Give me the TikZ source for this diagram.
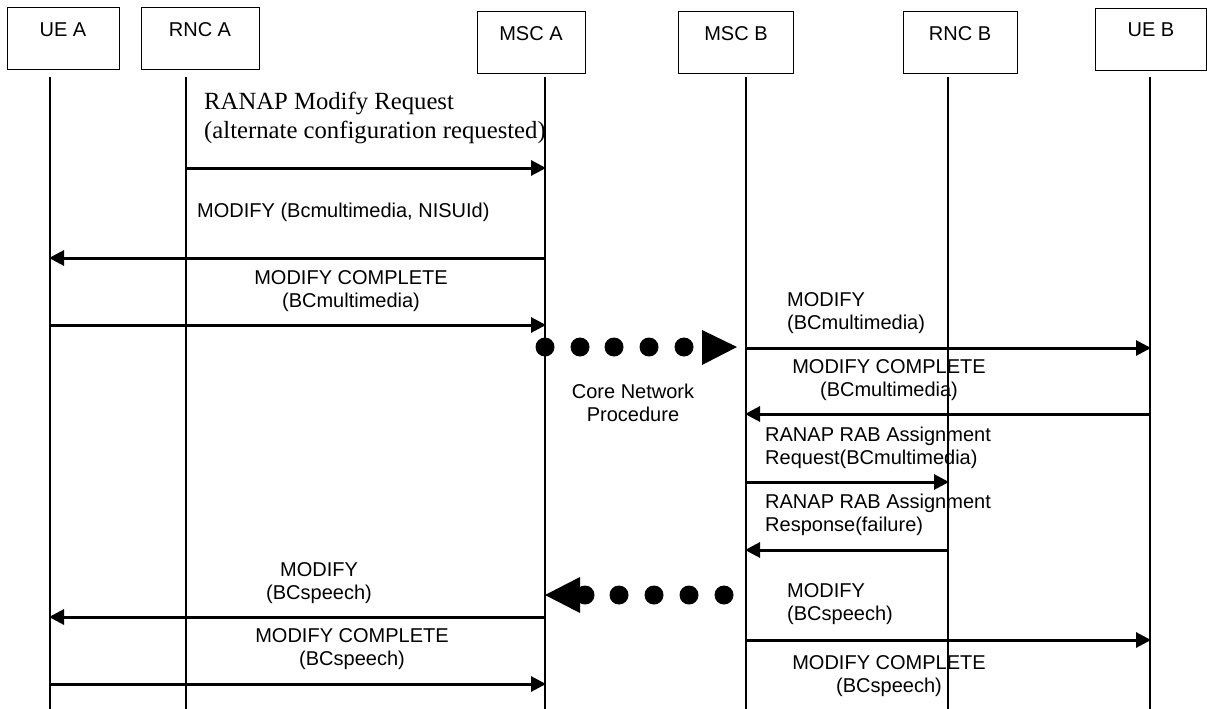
\documentclass[tikz,border=0pt]{standalone}
\usepackage{fontspec}
\setmainfont{Liberation Serif}
\newfontfamily\sansf{Liberation Sans}
\usetikzlibrary{arrows.meta}
\begin{document}
\begin{tikzpicture}[x=1pt,y=-1pt,
  entity/.style={draw, line width=1.2pt, anchor=north west, inner sep=0pt, minimum height=62pt},
  elabel/.style={font=\sansf\fontsize{20}{23}\selectfont, inner sep=0pt},
  lifeline/.style={line width=1.2pt},
  msg/.style={line width=3pt, -{Triangle[length=15pt,width=15pt]}, shorten >=-1pt},
  txt/.style={font=\sansf\fontsize{20}{23}\selectfont, inner sep=0pt},
  serif/.style={font=\fontsize{24.7}{29}\selectfont, inner sep=0pt},
  dot/.style={fill=black, draw=none}]
\useasboundingbox (0,0) rectangle (1207,709);
% entity boxes
\node[entity, minimum width=112pt] (uea) at (7,7) {};
\node[entity, minimum width=118pt] (rnca) at (141,7) {};
\node[entity, minimum width=108pt] (msca) at (477,11) {};
\node[entity, minimum width=115pt] (mscb) at (678,11) {};
\node[entity, minimum width=114pt] (rncb) at (903,11) {};
\node[entity, minimum width=111pt] (ueb) at (1095,8) {};
\node[elabel] (luea) at (63,30) {UE A};
\node[elabel] (lrnca) at (200,30) {RNC A};
\node[elabel] (lmsca) at (531,34) {MSC A};
\node[elabel] (lmscb) at (736,34) {MSC B};
\node[elabel] (lrncb) at (960,34) {RNC B};
\node[elabel] (lueb) at (1151,30) {UE B};
% lifelines
\foreach \n/\x in {UA/50, RA/186, MA/545, MB/746, RB/948, UB/1150}{
  \coordinate (\n-top) at (\x,77);
  \coordinate (\n-bot) at (\x,709);
  \draw[lifeline] (\n-top) -- (\n-bot);
}
% message end points
\coordinate (m1a) at (186,168); \coordinate (m1b) at (545,168);
\coordinate (m2a) at (545,258); \coordinate (m2b) at (50,258);
\coordinate (m3a) at (50,325);  \coordinate (m3b) at (545,325);
\coordinate (m4a) at (746,348); \coordinate (m4b) at (1150,348);
\coordinate (m5a) at (1150,414); \coordinate (m5b) at (746,414);
\coordinate (m6a) at (746,482); \coordinate (m6b) at (948,482);
\coordinate (m7a) at (948,550); \coordinate (m7b) at (746,550);
\coordinate (m8a) at (545,617); \coordinate (m8b) at (50,617);
\coordinate (m9a) at (746,640); \coordinate (m9b) at (1150,640);
\coordinate (m10a) at (50,684); \coordinate (m10b) at (545,684);
\foreach \i in {1,...,10}{\draw[msg] (m\i a) -- (m\i b);}
% labels
\node[serif, anchor=west, align=left] (t1) at (204,118) {RANAP Modify Request\\(alternate configuration requested)};
\node[txt, anchor=west] (t2) at (197,212) {MODIFY (Bcmultimedia, NISUId)};
\node[txt, align=center] (t3) at (351,291) {MODIFY COMPLETE\\(BCmultimedia)};
\node[txt, align=center] (t4) at (633,403) {Core Network\\Procedure};
\node[txt, anchor=west, align=left] (t5) at (787,313) {MODIFY\\(BCmultimedia)};
\node[txt, align=center] (t6) at (889,380) {MODIFY COMPLETE\\(BCmultimedia)};
\node[txt, anchor=west, align=left] (t7) at (765,448) {RANAP RAB Assignment\\Request(BCmultimedia)};
\node[txt, anchor=west, align=left] (t8) at (765,515) {RANAP RAB Assignment\\Response(failure)};
\node[txt, anchor=west, align=left] (t9) at (787,604) {MODIFY\\(BCspeech)};
\node[txt, align=center] (t10) at (889,676) {MODIFY COMPLETE\\(BCspeech)};
\node[txt, align=center] (t11) at (319,583) {MODIFY\\(BCspeech)};
\node[txt, align=center] (t12) at (352,649) {MODIFY COMPLETE\\(BCspeech)};
% core network dotted arrows
\foreach \x in {545,580,614,649,684}{\fill[dot] (\x,347) circle (9.5);}
\fill (702,330) -- (737,347) -- (702,365) -- cycle;
\foreach \x in {585,619,654,689,724}{\fill[dot] (\x,595) circle (9.5);}
\fill (545,595) -- (580,577) -- (580,613) -- cycle;
\end{tikzpicture}
\end{document}
